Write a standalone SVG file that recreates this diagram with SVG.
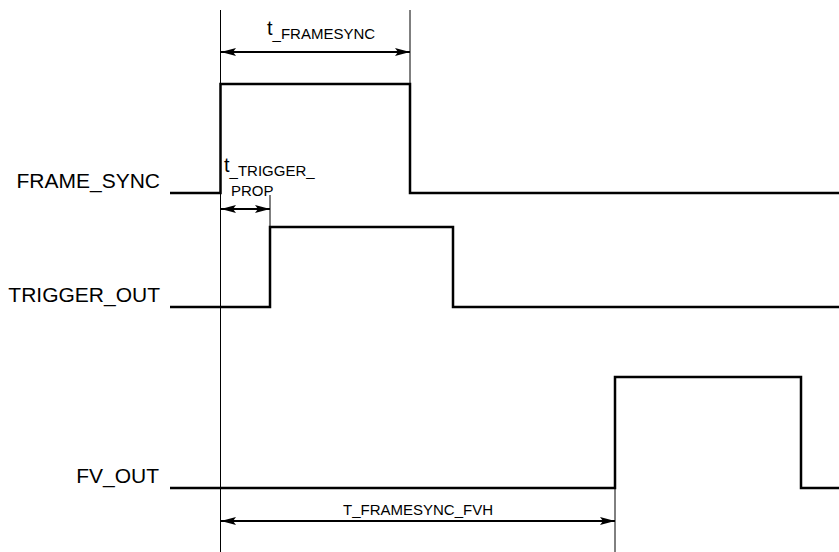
<svg xmlns="http://www.w3.org/2000/svg" width="839" height="552" viewBox="0 0 839 552">
<defs>
<marker id="ah" viewBox="0 0 15 8" refX="15" refY="4" markerWidth="15" markerHeight="8" markerUnits="userSpaceOnUse" orient="auto-start-reverse">
<path d="M0,0 L15,4 L0,8 L3,4 z" fill="#000"/>
</marker>
</defs>
<style>
.sig{fill:none;stroke:#000;stroke-width:2.5;stroke-linejoin:miter}
.ref{fill:none;stroke:#000;stroke-width:1}
.dim{fill:none;stroke:#000;stroke-width:2;marker-start:url(#ah);marker-end:url(#ah)}
.lbl{font-family:"Liberation Sans",Arial,sans-serif;font-size:21px;fill:#000}
.t{font-family:"Liberation Sans",Arial,sans-serif;font-size:20px;fill:#000}
.s{font-family:"Liberation Sans",Arial,sans-serif;font-size:15px;fill:#000}
</style>
<rect width="839" height="552" fill="#fff"/>
<g id="connectors">
<path class="ref" d="M220.5,10 V552"/>
<path class="ref" d="M410,10 V84"/>
<path class="ref" d="M270,195 V227"/>
<path class="ref" d="M615,488 V552"/>
<path class="dim" d="M221,52 H410"/>
<path class="dim" d="M221,209 H270"/>
<path class="dim" d="M221,521 H615"/>
</g>
<g id="frame_sync">
<path class="sig" d="M170,193 H220.5 V84 H410 V193 H839"/>
<text class="lbl" x="160" y="188" text-anchor="end">FRAME_SYNC</text>
</g>
<g id="trigger_out">
<path class="sig" d="M170,307 H270 V227 H453 V307 H839"/>
<text class="lbl" x="160" y="302" text-anchor="end">TRIGGER_OUT</text>
</g>
<g id="fv_out">
<path class="sig" d="M170,488 H615 V377 H801 V488 H839"/>
<text class="lbl" x="159" y="483" text-anchor="end">FV_OUT</text>
</g>
<g id="t_framesync">
<text x="267" y="35"><tspan class="t">t</tspan><tspan class="s" dy="4">_FRAMESYNC</tspan></text>
</g>
<g id="t_trigger_prop">
<text x="224" y="172"><tspan class="t">t</tspan><tspan class="s" dy="4">_TRIGGER_</tspan></text>
<text class="s" x="231" y="196">PROP</text>
</g>
<g id="t_framesync_fvh">
<text class="s" x="418" y="515" text-anchor="middle">T_FRAMESYNC_FVH</text>
</g>
</svg>
